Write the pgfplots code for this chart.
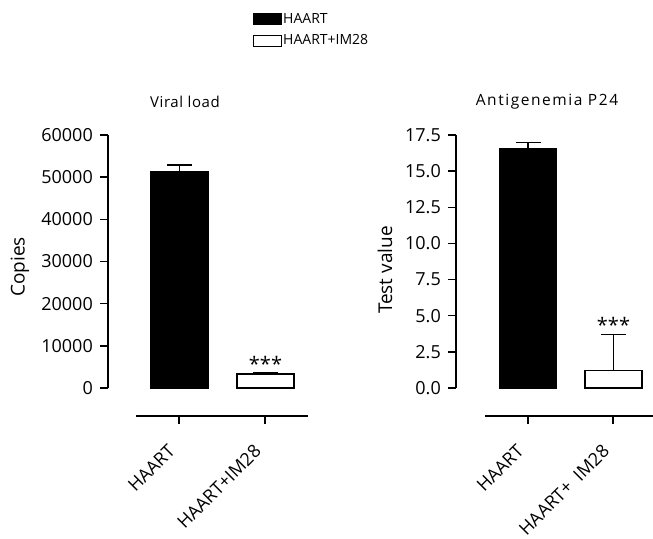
\documentclass[border=0pt]{standalone}
\usepackage{fontspec}
\setmainfont{Open Sans}
\newfontfamily\titlefont[LetterSpace=4]{Open Sans}
\newfontfamily\titlefontb[LetterSpace=10]{Open Sans}
\usepackage{pgfplots}
\pgfplotsset{compat=1.18}

\pgfplotsset{
  prismy/.style={
    scale only axis, width=200bp, height=253bp, anchor=south west,
    xmin=0, xmax=1, clip=false,
    axis lines*=left,
    x axis line style={draw=none}, xtick=\empty,
    scaled y ticks=false,
    tick align=outside, major tick length=8bp,
    y axis line style={line width=2bp, black, draw=black},
    ytick style={black, line width=1.5bp},
    yticklabel style={font=\fontsize{18bp}{21bp}\selectfont, inner sep=0pt, xshift=-7bp},
    ylabel style={anchor=center, font=\fontsize{19bp}{22bp}\selectfont},
    title style={anchor=center},
  },
  prismbars/.style={
    scale only axis, width=200bp, height=253bp, anchor=south west,
    hide axis, ymin=0, clip=false,
    bar shift=0pt, bar width=57bp,
  },
  prismx/.style={
    scale only axis, height=10bp, anchor=south west,
    xmin=-0.5, xmax=1.5, ymin=0, ymax=1,
    axis y line=none, axis x line*=bottom,
    xtick={0,1},
    tick align=outside, major tick length=8bp,
    axis line style={line width=1.5bp, black},
    every tick/.style={black, line width=1.5bp},
    xticklabel style={xshift=-12bp, yshift=-19bp, rotate=45, anchor=north east, inner sep=0pt,
      font=\fontsize{18bp}{21bp}\selectfont},
  },
  errstyle/.style={
    error bars/.cd, y dir=plus, y explicit,
    error bar style={line width=1.5bp, black},
    error mark options={rotate=90, line width=1.5bp, black, mark size=12.5bp},
  },
}

\begin{document}
\begin{tikzpicture}
\path[use as bounding box] (0,0) rectangle (653bp,539bp);

% ---------- left panel: Viral load ----------
\begin{axis}[prismbars, at={(108bp,151bp)},
  xmin=-0.831, xmax=1.494, ymax=60000,
  legend style={at={(axis description cs:0.725,1.486)}, anchor=north west,
    draw=none, fill=none, inner sep=0pt, row sep=8bp,
    font=\fontsize{14bp}{15bp}\selectfont,
    nodes={inner sep=1bp}, cells={anchor=west}},
  legend image code/.code={\draw[#1, line width=1bp] (0bp,-5.5bp) rectangle (28bp,5.5bp);},
]
\addplot[ybar, fill=black, draw=black, line width=1.5bp, errstyle]
  coordinates {(0,51200) +- (0,1700)};
\addlegendentry{HAART}
\addplot[ybar, fill=white, draw=black, line width=1.5bp, errstyle]
  coordinates {(1,3300) +- (0,250)};
\addlegendentry{HAART+IM28}
\node[anchor=base, inner sep=0pt, font=\fontsize{20bp}{22bp}\selectfont]
  at (axis cs:1,3550) [yshift=2bp] {***};
\fill[black] ([xshift=-1bp]axis cs:-0.831,0) rectangle ([xshift=1bp]axis cs:-0.831,60000);
\end{axis}

\begin{axis}[prismx, at={(136bp,123bp)}, width=172bp,
  xticklabels={HAART,HAART+IM28}]
\end{axis}

\begin{axis}[prismy, at={(108bp,151bp)},
  ymin=0, ymax=60000,
  ytick={0,10000,20000,30000,40000,50000,60000},
  yticklabels={0,10000,20000,30000,40000,50000,60000},
  ylabel={Copies},
  ylabel style={at={(axis description cs:-0.44,0.478)}},
  title={Viral load},
  title style={at={(axis description cs:0.385,1.107)}, font=\titlefont\fontsize{15bp}{17bp}\selectfont},
]
\end{axis}

% ---------- right panel: Antigenemia P24 ----------
\begin{axis}[prismbars, at={(456bp,151bp)},
  xmin=-0.842, xmax=1.497, ymax=17.5,
]
\addplot[ybar, fill=black, draw=black, line width=1.5bp, errstyle]
  coordinates {(0,16.55) +- (0,0.42)};
\addplot[ybar, fill=white, draw=black, line width=1.5bp, errstyle]
  coordinates {(1,1.2) +- (0,2.5)};
\node[anchor=base, inner sep=0pt, font=\fontsize{20bp}{22bp}\selectfont]
  at (axis cs:1,3.7) [yshift=2bp] {***};
\fill[black] ([xshift=-1bp]axis cs:-0.842,0) rectangle ([xshift=1bp]axis cs:-0.842,17.5);
\end{axis}

\begin{axis}[prismx, at={(485bp,123bp)}, width=168bp, xmax=1.465,
  xticklabels={HAART,HAART+\ \ IM28}]
\end{axis}

\begin{axis}[prismy, at={(456bp,151bp)},
  ymin=0, ymax=17.5,
  ytick={0,2.5,5,7.5,10,12.5,15,17.5},
  yticklabels={0.0,2.5,5.0,7.5,10.0,12.5,15.0,17.5},
  ylabel={Test value},
  ylabel style={at={(axis description cs:-0.355,0.466)}},
  title={Antigenemia P24},
  title style={at={(axis description cs:0.455,1.107)}, font=\titlefontb\fontsize{15.5bp}{17bp}\selectfont},
]
\end{axis}

\end{tikzpicture}
\end{document}
